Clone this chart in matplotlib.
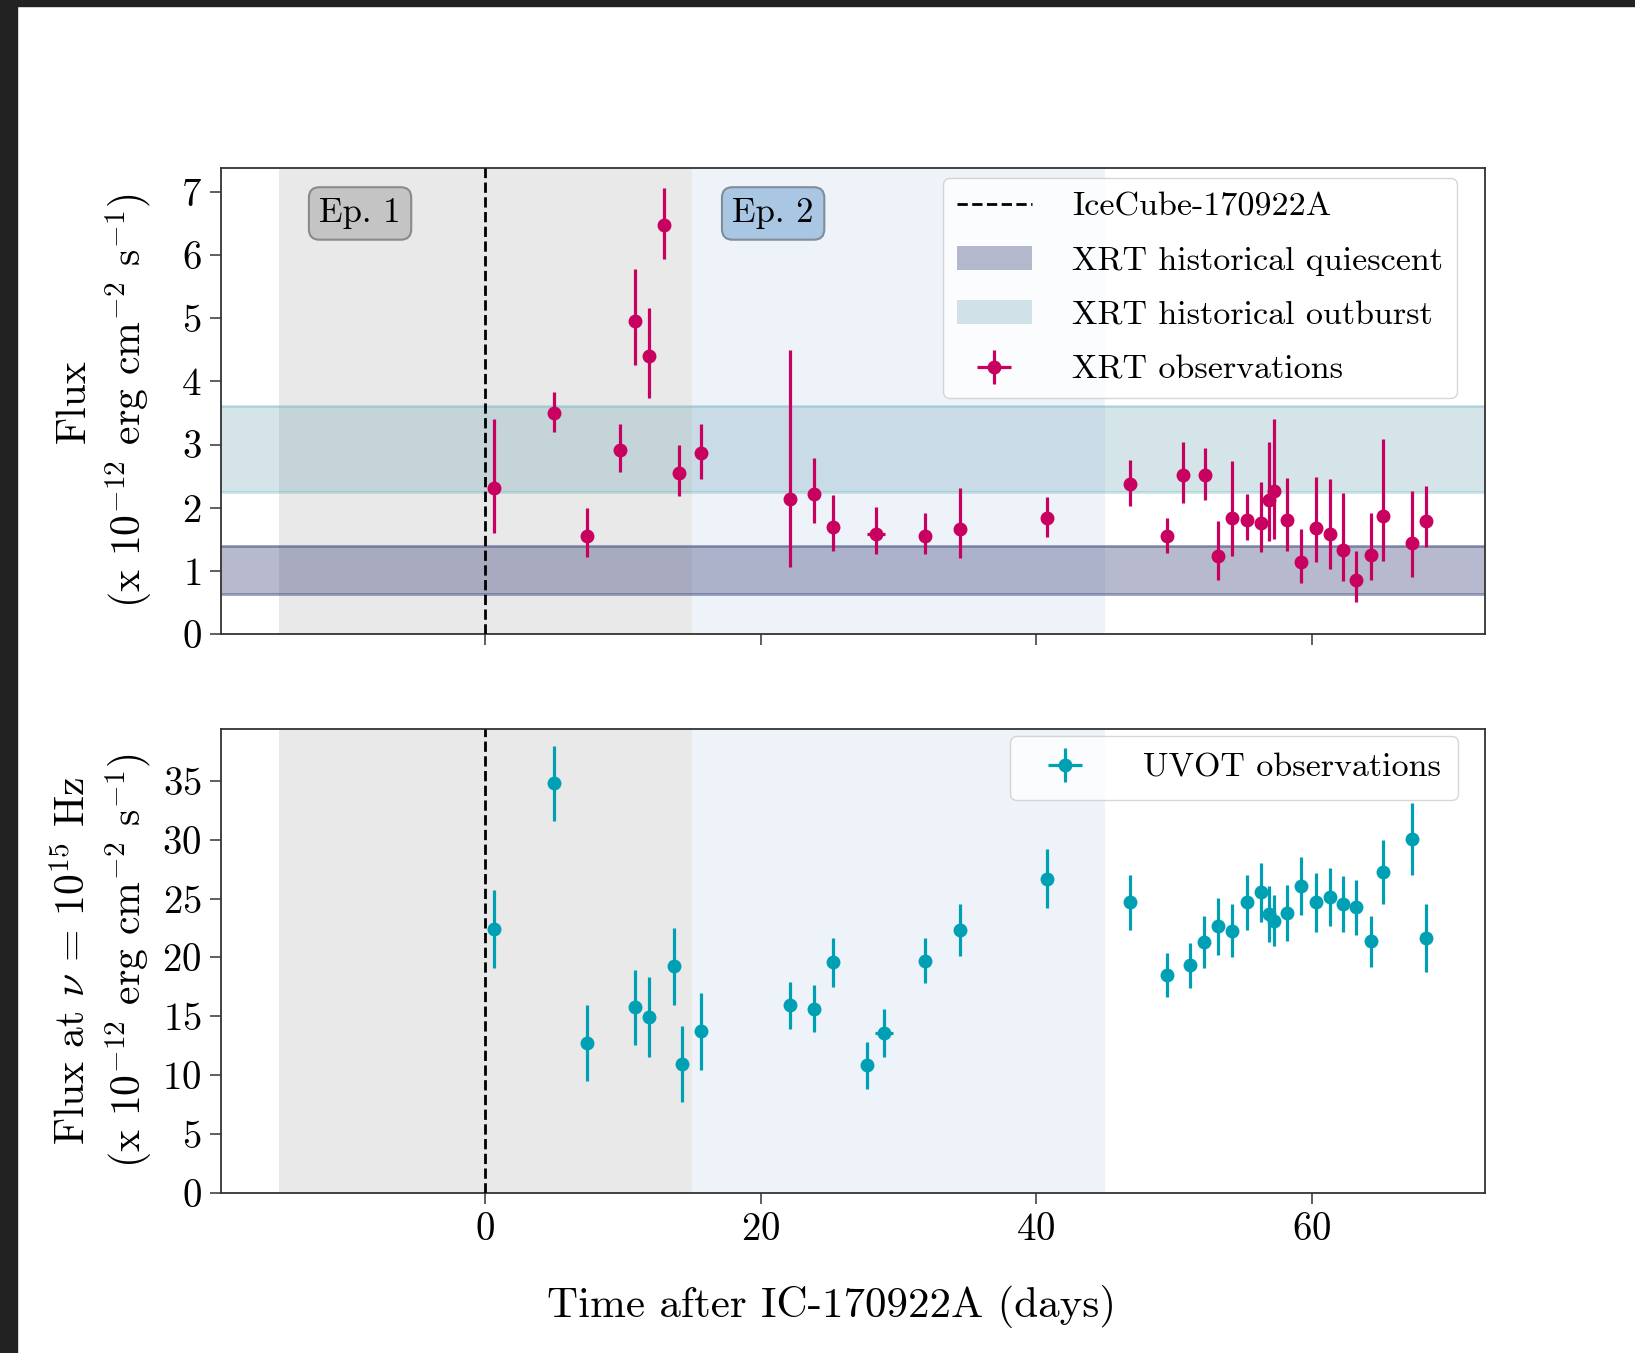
import matplotlib
matplotlib.use('Agg')
import numpy as np
import matplotlib.pyplot as plt
from matplotlib.patches import Rectangle

plt.rcParams['font.family'] = 'serif'
plt.rcParams['font.serif'] = ['cmr10', 'DejaVu Serif']
plt.rcParams['mathtext.fontset'] = 'cm'
plt.rcParams['axes.formatter.use_mathtext'] = True
plt.rcParams['axes.unicode_minus'] = False

# ---------------------------------------------------------------------------
# data
# ---------------------------------------------------------------------------
xrt_t = [0.62, 4.98, 7.39, 9.8, 10.84, 11.9, 12.97, 14.09, 15.64,
         22.1, 23.9, 25.26, 28.4, 31.9, 34.5, 40.8,
         46.8, 49.5, 50.65, 52.3, 53.2, 54.2, 55.35, 56.3, 56.9, 57.25, 58.2,
         59.27, 60.29, 61.33, 62.3, 63.2, 64.29, 65.2, 67.3, 68.35]
xrt_flux = [2.32, 3.50, 1.55, 2.92, 4.96, 4.41, 6.48, 2.55, 2.86,
            2.14, 2.21, 1.70, 1.59, 1.55, 1.67, 1.84,
            2.37, 1.55, 2.52, 2.52, 1.23, 1.84, 1.81, 1.76, 2.13, 2.26, 1.81,
            1.14, 1.68, 1.58, 1.33, 0.85, 1.25, 1.87, 1.44, 1.79]
xrt_err_lo = [0.72, 0.30, 0.33, 0.35, 0.70, 0.67, 0.54, 0.37, 0.40,
              1.08, 0.46, 0.39, 0.33, 0.29, 0.46, 0.30,
              0.34, 0.27, 0.44, 0.40, 0.38, 0.61, 0.32, 0.46, 0.65, 0.75, 0.50,
              0.34, 0.54, 0.55, 0.49, 0.35, 0.40, 0.71, 0.53, 0.41]
xrt_err_hi = [1.08, 0.34, 0.44, 0.40, 0.82, 0.76, 0.58, 0.44, 0.46,
              2.36, 0.58, 0.50, 0.42, 0.37, 0.65, 0.33,
              0.39, 0.29, 0.52, 0.42, 0.56, 0.90, 0.41, 0.64, 0.91, 1.14, 0.66,
              0.52, 0.80, 0.87, 0.91, 0.47, 0.67, 1.22, 0.82, 0.55]
xrt_terr = [0.2] * 12 + [0.65] + [0.2] * 23

uvot_t = [0.62, 4.98, 7.39, 10.84, 11.9, 13.72, 14.27, 15.64,
          22.1, 23.9, 25.26, 27.7, 28.96, 31.9, 34.5, 40.8,
          46.8, 49.5, 51.2, 52.2, 53.2, 54.2, 55.35, 56.3, 56.9, 57.25, 58.2,
          59.25, 60.29, 61.33, 62.3, 63.2, 64.29, 65.2, 67.3, 68.35]
uvot_flux = [22.44, 34.78, 12.73, 15.76, 14.94, 19.24, 10.95, 13.72,
             15.93, 15.65, 19.58, 10.84, 13.58, 19.72, 22.35, 26.68,
             24.67, 18.53, 19.33, 21.28, 22.64, 22.27, 24.67, 25.55, 23.68, 23.12, 23.77,
             26.09, 24.67, 25.13, 24.56, 24.25, 21.36, 27.25, 30.05, 21.65]
uvot_err = [3.3, 3.2, 3.2, 3.2, 3.4, 3.3, 3.2, 3.3,
            2.0, 2.0, 2.05, 2.0, 2.05, 1.9, 2.2, 2.5,
            2.3, 1.85, 1.9, 2.2, 2.4, 2.27, 2.3, 2.5, 2.35, 2.15, 2.35,
            2.47, 2.5, 2.5, 2.4, 2.3, 2.18, 2.73, 3.04, 2.85]
uvot_terr = [0.2] * 12 + [0.65] + [0.2] * 23

ep1 = (-15, 15)
ep2 = (15, 45)
quiescent = (0.64, 1.39)
outburst = (2.25, 3.61)

XRT_COL = '#C8005F'
UVOT_COL = '#00A0B4'
Q_FILL = (0.15, 0.18, 0.42, 0.33)
Q_EDGE = (0.33, 0.37, 0.55, 0.6)
O_FILL = (0.40, 0.62, 0.70, 0.28)
O_EDGE = (0.40, 0.70, 0.72, 0.35)

fig = plt.figure(figsize=(16.35, 13.53), dpi=100)
W, H = 1635.0, 1353.0
ax1 = fig.add_axes([221 / W, 1 - 634 / H, 1264 / W, 466 / H])
ax2 = fig.add_axes([221 / W, 1 - 1193 / H, 1264 / W, 464 / H])

# dark screenshot border
fig.add_artist(Rectangle((0, 0), 17 / W, 1, transform=fig.transFigure,
                         color='#222222', zorder=10))
fig.add_artist(Rectangle((0, 1 - 6 / H), 1, 6 / H, transform=fig.transFigure,
                         color='#222222', zorder=10))

for ax in (ax1, ax2):
    ax.axvspan(*ep1, color='#E9E9E9', lw=0, zorder=0)
    ax.axvspan(*ep2, color='#EEF3FA', lw=0, zorder=0)
    ax.set_xlim(-19.2, 72.6)
    ax.set_xticks([0, 20, 40, 60])
    ax.tick_params(direction='out', length=8, width=1.1, labelsize=28,
                   color='#333333', pad=6)
    for s in ax.spines.values():
        s.set_linewidth(1.3)
        s.set_color('#333333')

# --- top panel: XRT
ax1.axvline(0, color='black', ls='--', lw=2.0, zorder=3,
            label='IceCube-170922A')
ax1.axhspan(*quiescent, facecolor=Q_FILL, lw=0,
            label='XRT historical quiescent', zorder=1)
ax1.axhspan(*outburst, facecolor=O_FILL, lw=0,
            label='XRT historical outburst', zorder=1)
for yv in quiescent:
    ax1.axhline(yv, color=Q_EDGE, lw=2, zorder=1)
for yv in outburst:
    ax1.axhline(yv, color=O_EDGE, lw=2, zorder=1)
ax1.errorbar(xrt_t, xrt_flux, yerr=[xrt_err_lo, xrt_err_hi], xerr=xrt_terr,
             fmt='o', color=XRT_COL, ms=9, elinewidth=2.3, capsize=0,
             label='XRT observations', zorder=4)
ax1.set_ylim(0, 7.38)
ax1.set_yticks(range(0, 8))
ax1.tick_params(labelbottom=False)
ax1.set_ylabel('Flux\n(x $10^{-12}$ erg cm$^{-2}$ s$^{-1}$)', fontsize=30,
               linespacing=1.3)
ax1.yaxis.set_label_coords(-0.052, 0.5)

ax1.text(-9.1, 6.66, 'Ep. 1', fontsize=25, ha='center', va='center',
         bbox=dict(boxstyle='round,pad=0.3', facecolor='#C4C4C4',
                   edgecolor='#8A8A8A', lw=1.5), zorder=5)
ax1.text(20.9, 6.66, 'Ep. 2', fontsize=25, ha='center', va='center',
         bbox=dict(boxstyle='round,pad=0.3', facecolor='#A9C6E3',
                   edgecolor='#7F8C99', lw=1.5), zorder=5)

ax1.legend(loc='upper right', bbox_to_anchor=(0.986, 1.0),
           fontsize=24.5, handlelength=2.2, handletextpad=1.2,
           labelspacing=0.72, borderaxespad=0.3, framealpha=0.8)

# --- bottom panel: UVOT
ax2.axvline(0, color='black', ls='--', lw=2.0, zorder=3)
ax2.errorbar(uvot_t, uvot_flux, yerr=uvot_err, xerr=uvot_terr,
             fmt='o', color=UVOT_COL, ms=9, elinewidth=2.3, capsize=0,
             label='UVOT observations', zorder=4)
ax2.set_ylim(0, 39.4)
ax2.set_yticks(range(0, 36, 5))
ax2.set_ylabel('Flux at $\\nu$ = $10^{15}$ Hz\n(x $10^{-12}$ erg cm$^{-2}$ s$^{-1}$)',
               fontsize=30, linespacing=1.3)
ax2.yaxis.set_label_coords(-0.052, 0.5)
ax2.legend(loc='upper right', bbox_to_anchor=(0.984, 1.0),
           fontsize=24.5, handlelength=2.2, handletextpad=1.2,
           borderaxespad=0.2, borderpad=0.5, framealpha=0.8)

fig.text(831 / W, 1 - 1307 / H, 'Time after IC-170922A (days)', fontsize=31,
         ha='center', va='center')

fig.savefig('out.png', dpi=100)
